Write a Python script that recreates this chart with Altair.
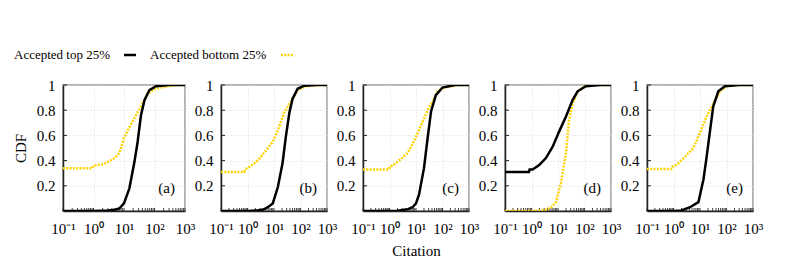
import altair as alt
import pandas as pd

panels = ["(a)", "(b)", "(c)", "(d)", "(e)"]
series = ["Accepted top 25%", "Accepted bottom 25%"]
colors = ["#000000", "#FFD200"]

# Accepted top 25% (black)
top_x = [
    [0.1, 1, 3, 5, 7, 10, 15, 22, 28, 36, 47, 68, 112, 300, 1000],
    [0.1, 1, 2, 4, 5.8, 9, 14, 21, 28, 38, 50, 78, 138, 400, 1000],
    [0.1, 1, 2, 3.6, 5, 7.4, 10, 13, 20, 27.5, 37, 56, 100, 300, 1000],
    [0.1, 0.8, 0.85, 1.1, 1.95, 3.5, 6.3, 11, 20, 35.5, 55, 112, 400, 1000],
    [0.1, 1, 2, 4.2, 8.7, 13.5, 17.8, 24, 31.6, 49, 87, 300, 1000],
]
top_y = [
    [0.0, 0.0, 0.004, 0.01, 0.02, 0.06, 0.18, 0.39, 0.55, 0.76, 0.88, 0.96, 0.99, 1.0, 1.0],
    [0.0, 0.0, 0.003, 0.012, 0.03, 0.06, 0.19, 0.38, 0.59, 0.78, 0.89, 0.97, 0.995, 1.0, 1.0],
    [0.0, 0.0, 0.002, 0.01, 0.015, 0.03, 0.06, 0.13, 0.34, 0.58, 0.79, 0.92, 0.98, 1.0, 1.0],
    [0.31, 0.31, 0.33, 0.33, 0.365, 0.42, 0.51, 0.63, 0.75, 0.88, 0.95, 0.99, 1.0, 1.0],
    [0.0, 0.0, 0.004, 0.03, 0.07, 0.25, 0.43, 0.64, 0.83, 0.95, 0.99, 1.0, 1.0],
]
# Accepted bottom 25% (yellow)
bot_x = [
    [0.1, 0.9, 1.0, 2, 3, 5, 7, 8, 10, 14, 19, 26, 36, 56, 100, 250, 600, 1000],
    [0.1, 0.75, 0.8, 1.2, 2.4, 5, 7, 9, 14, 24, 44, 78, 160, 500, 1000],
    [0.1, 0.95, 1.0, 1.3, 2, 4.9, 8.7, 15.5, 27.5, 43, 66, 117, 400, 1000],
    [0.1, 1, 2, 3.5, 5.5, 8.3, 12.9, 20, 26, 35.5, 55, 100, 300, 1000],
    [0.1, 0.82, 0.88, 1.3, 2.7, 5.6, 10, 17.8, 31.6, 56, 100, 300, 1000],
]
bot_y = [
    [0.34, 0.34, 0.36, 0.37, 0.39, 0.42, 0.46, 0.5, 0.58, 0.65, 0.71, 0.77, 0.83, 0.92, 0.97, 0.99, 1.0, 1.0],
    [0.31, 0.31, 0.33, 0.35, 0.40, 0.48, 0.52, 0.55, 0.64, 0.78, 0.87, 0.96, 0.99, 1.0, 1.0],
    [0.33, 0.33, 0.35, 0.36, 0.39, 0.46, 0.56, 0.68, 0.80, 0.87, 0.95, 0.98, 1.0, 1.0],
    [0.0, 0.0, 0.003, 0.01, 0.03, 0.07, 0.22, 0.46, 0.72, 0.85, 0.95, 0.99, 1.0, 1.0],
    [0.333, 0.333, 0.35, 0.365, 0.43, 0.50, 0.62, 0.75, 0.85, 0.95, 0.99, 1.0, 1.0],
]

x_tick_values = [0.1, 1, 10, 100, 1000]
x_tick_labels = ["10⁻¹", "10⁰", "10¹", "10²", "10³"]
y_tick_values = [0.2, 0.4, 0.6, 0.8, 1.0]
minor_ticks = [k * m for m in [0.1, 1, 10, 100] for k in range(2, 10)]

FONT = "Liberation Serif"
H = 126
widths = [122, 106, 106, 106, 106]

label_expr = " : ".join(
    f"datum.value == {v} ? '{l}'" for v, l in zip(x_tick_values, x_tick_labels)
) + " : ''"

xscale = alt.Scale(type="log", domain=[0.1, 1000], nice=False)
yscale = alt.Scale(domain=[0, 1], nice=False, zero=False)

charts = []
for i, p in enumerate(panels):
    rows = []
    for x, y in zip(top_x[i], top_y[i]):
        rows.append({"x": x, "cdf": y, "series": series[0]})
    for x, y in zip(bot_x[i], bot_y[i]):
        rows.append({"x": x, "cdf": y, "series": series[1]})
    df = pd.DataFrame(rows)
    w = widths[i]

    xaxis = alt.Axis(
        values=x_tick_values, labelExpr=label_expr, labelOverlap=False,
        labelFlush=False, title="Citation" if i == 2 else None,
        labelPadding=10, labelBaseline="top", titlePadding=7,
    )
    yaxis = alt.Axis(
        values=y_tick_values,
        labelExpr="datum.value == 1 ? '1' : format(datum.value, '.1f')",
        title="CDF" if i == 0 else None, labelPadding=8, titlePadding=8,
    )

    base = alt.Chart(df)
    top_line = base.transform_filter(alt.datum.series == series[0]).mark_line(
        color=colors[0], strokeWidth=2.5, clip=True
    ).encode(
        x=alt.X("x:Q", scale=xscale, axis=xaxis),
        y=alt.Y("cdf:Q", scale=yscale, axis=yaxis),
    )
    bot_line = base.transform_filter(alt.datum.series == series[1]).mark_line(
        color=colors[1], strokeWidth=2.5, strokeDash=[2, 1.3], clip=True
    ).encode(
        x=alt.X("x:Q", scale=xscale, axis=xaxis),
        y=alt.Y("cdf:Q", scale=yscale, axis=yaxis),
    )
    minor = alt.Chart(pd.DataFrame({"v": minor_ticks + x_tick_values})).mark_rule(
        color="#444", strokeWidth=1
    ).encode(
        x=alt.X("v:Q", scale=xscale, axis=xaxis),
        y=alt.value(H), y2=alt.value(H - 3),
    )
    yticks = alt.Chart(pd.DataFrame({"v": y_tick_values})).mark_rule(
        color="#222", strokeWidth=1
    ).encode(
        y=alt.Y("v:Q", scale=yscale, axis=yaxis),
        x=alt.value(0), x2=alt.value(4),
    )
    plabel = alt.Chart(pd.DataFrame({"t": [p]})).mark_text(
        align="right", baseline="middle", font=FONT, fontSize=15, color="#000"
    ).encode(
        text="t:N", x=alt.value(w - 10), y=alt.YDatum(0.185, scale=yscale, axis=yaxis)
    )
    layers = [minor, yticks, bot_line, top_line, plabel]

    if i == 0:
        ly = -30
        leg_text_x = [-49, 87]
        leg_line_x = [(61, 73), (218, 231)]
        for k in range(2):
            layers.append(
                alt.Chart(pd.DataFrame({"t": [series[k]]})).mark_text(
                    align="left", baseline="middle", font=FONT, fontSize=13, color="#000"
                ).encode(text="t:N", x=alt.value(leg_text_x[k]), y=alt.value(ly))
            )
        layers.append(
            alt.Chart(pd.DataFrame({"s": [series[0]]})).mark_rule(
                color=colors[0], strokeWidth=2.5
            ).encode(x=alt.value(leg_line_x[0][0]), x2=alt.value(leg_line_x[0][1]), y=alt.value(ly))
        )
        layers.append(
            alt.Chart(pd.DataFrame({"s": [series[1]]})).mark_rule(
                color=colors[1], strokeWidth=2.5, strokeDash=[2, 1.3]
            ).encode(x=alt.value(leg_line_x[1][0]), x2=alt.value(leg_line_x[1][1]), y=alt.value(ly))
        )

    charts.append(alt.layer(*layers).properties(width=w, height=H))

chart = alt.hconcat(*charts, spacing=36, bounds="flush").properties(
    padding={"left": 4, "top": 40, "right": 5, "bottom": 5}
).configure_view(
    stroke="#999", strokeWidth=1.5
).configure_axis(
    labelFont=FONT, labelFontSize=15, labelColor="#000",
    titleFont=FONT, titleFontSize=15, titleFontWeight="normal", titleColor="#000",
    ticks=False, domainColor="#222", domainWidth=1.5,
    gridColor="#dddddd", gridDash=[1, 2], gridWidth=1,
)

chart.save("out.html", embed_options={"renderer": "svg", "actions": False})
